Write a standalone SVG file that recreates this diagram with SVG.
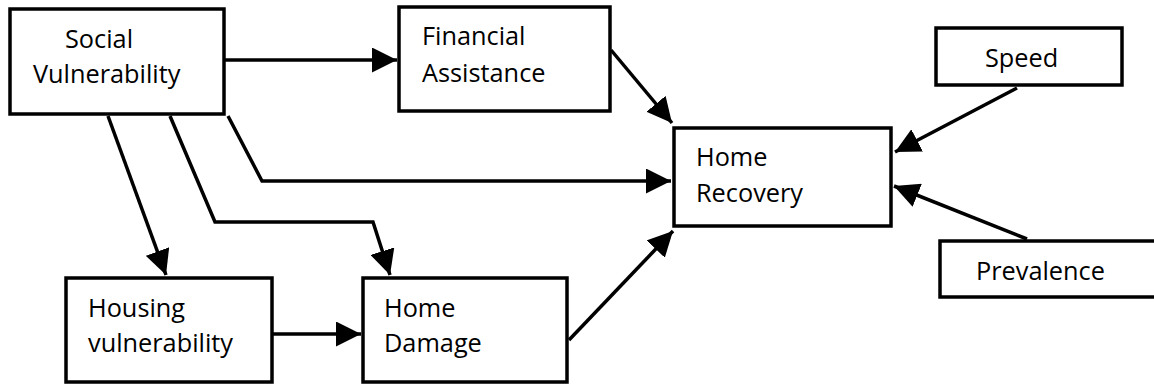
<svg xmlns="http://www.w3.org/2000/svg" width="1154" height="385" viewBox="0 0 1154 385">
<style>
.box{fill:#fff;stroke:#000;stroke-width:3.5}
.lbl{font-family:"Open Sans","Noto Sans","Liberation Sans",sans-serif;font-size:25.3px;fill:#000}
.edge{fill:none;stroke:#000;stroke-width:3.5;marker-end:url(#ah)}
</style>
<defs>
<marker id="ah" markerUnits="userSpaceOnUse" markerWidth="26" markerHeight="25" refX="25" refY="12.5" orient="auto">
<path d="M0,0 L25,12.5 L0,25 z" fill="#000"/>
</marker>
</defs>
<rect width="1154" height="385" fill="#fff"/>
<g id="connectors">
<path class="edge" d="M225,60 L397,60"/>
<path class="edge" d="M611,50 L672,123"/>
<path class="edge" d="M228,116 L262,181 L671,181"/>
<path class="edge" d="M108,116 L166,275"/>
<path class="edge" d="M170,116 L215,222 L373,222 L390,275"/>
<path class="edge" d="M273,334 L361,334"/>
<path class="edge" d="M569,340 L673,231"/>
<path class="edge" d="M1017,88 L895,152"/>
<path class="edge" d="M1027,239 L894,186"/>
</g>
<g id="social-vulnerability">
<rect class="box" x="10" y="9" width="214" height="105"/>
<text class="lbl" x="65" y="48">Social</text>
<text class="lbl" x="33" y="83">Vulnerability</text>
</g>
<g id="financial-assistance">
<rect class="box" x="399" y="7" width="211" height="104"/>
<text class="lbl" x="422" y="45">Financial</text>
<text class="lbl" x="422" y="82">Assistance</text>
</g>
<g id="home-recovery">
<rect class="box" x="674" y="128" width="217" height="98"/>
<text class="lbl" x="696" y="166">Home</text>
<text class="lbl" x="696" y="202">Recovery</text>
</g>
<g id="speed">
<rect class="box" x="936" y="28" width="186" height="57"/>
<text class="lbl" x="985" y="67">Speed</text>
</g>
<g id="prevalence">
<rect class="box" x="940" y="241" width="220" height="56"/>
<text class="lbl" x="976" y="280">Prevalence</text>
</g>
<g id="housing-vulnerability">
<rect class="box" x="66" y="278" width="206" height="104"/>
<text class="lbl" x="88" y="317">Housing</text>
<text class="lbl" x="88" y="352">vulnerability</text>
</g>
<g id="home-damage">
<rect class="box" x="363" y="278" width="204" height="104"/>
<text class="lbl" x="384" y="317">Home</text>
<text class="lbl" x="384" y="352">Damage</text>
</g>
</svg>
